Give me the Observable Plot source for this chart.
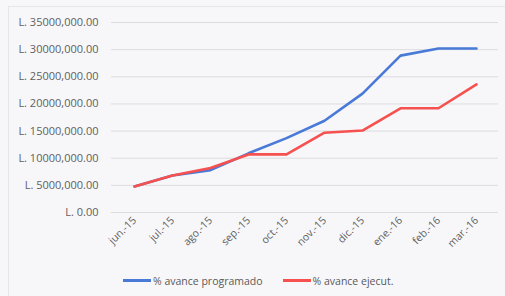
<!DOCTYPE html>
<html>
<head>
<meta charset="utf-8">
<script src="https://cdn.jsdelivr.net/npm/d3@7"></script>
<script src="https://cdn.jsdelivr.net/npm/@observablehq/plot@0.6"></script>
<style>
  html, body { margin: 0; padding: 0; background: #f7f7f9; }
  #wrap { position: relative; width: 505px; height: 296px; overflow: hidden; background: #f7f7f9; font-family: "Open Sans", sans-serif; }
  #frame { position: absolute; left: 8px; top: 6px; width: 520px; height: 320px; border: 1px solid #e6e6ea; box-sizing: border-box; pointer-events: none; }
  #legend { height: 31px; display: flex; align-items: center; font-size: 10.5px; color: #595959; padding-left: 123px; gap: 0; }
  .item { display: flex; align-items: center; margin-right: 20px; }
  .sw { width: 28px; height: 3px; margin-right: 2px; }
</style>
</head>
<body>
<div id="wrap">
  <div id="frame"></div>
  <div id="chart"></div>
  <div id="legend"></div>
</div>
<script>
const months = ["jun.-15", "jul.-15", "ago.-15", "sep.-15", "oct.-15", "nov.-15", "dic.-15", "ene.-16", "feb.-16", "mar.-16"];
const programado = [4800000, 6800000, 7800000, 10900000, 13700000, 16900000, 21900000, 28900000, 30200000, 30200000];
const ejecutado  = [4800000, 6800000, 8200000, 10700000, 10700000, 14700000, 15100000, 19200000, 19200000, 23600000];
const seriesNames = ["% avance programado", "% avance ejecut."];
const seriesColors = ["#4a7ad8", "#f6504f"];
const yTicks = [0, 5000000, 10000000, 15000000, 20000000, 25000000, 30000000, 35000000];
const yTickLabels = ["L. 0.00", "L. 5000,000.00", "L. 10000,000.00", "L. 15000,000.00", "L. 20000,000.00", "L. 25000,000.00", "L. 30000,000.00", "L. 35000,000.00"];

const rows = [];
months.forEach((m, i) => {
  rows.push({month: m, value: programado[i], series: seriesNames[0]});
  rows.push({month: m, value: ejecutado[i], series: seriesNames[1]});
});

const chart = Plot.plot({
  width: 505,
  height: 265,
  marginTop: 22,
  marginBottom: 53,
  marginLeft: 111,
  marginRight: 7,
  style: {background: "transparent", fontFamily: "'Open Sans', sans-serif", color: "#595959"},
  x: {type: "point", domain: months, padding: 0.5, label: null},
  y: {domain: [0, 35000000], label: null},
  color: {domain: seriesNames, range: seriesColors},
  marks: [
    Plot.ruleY(yTicks, {stroke: "#dcdce0", strokeWidth: 1}),
    Plot.axisY({ticks: yTicks, tickFormat: d => yTickLabels[yTicks.indexOf(d)], tickSize: 0, tickPadding: 13, fontSize: 11, fill: "#5f5f5f", label: null}),
    Plot.axisX({tickSize: 0, tickRotate: -45, tickPadding: 6, fontSize: 10.5, fill: "#5f5f5f", label: null}),
    Plot.line(rows, {x: "month", y: "value", z: "series", stroke: "series", strokeWidth: 2.6, strokeLinejoin: "round", strokeLinecap: "round"})
  ]
});
document.getElementById("chart").appendChild(chart);

const legend = document.getElementById("legend");
seriesNames.forEach((n, i) => {
  const it = document.createElement("div");
  it.className = "item";
  const sw = document.createElement("div");
  sw.className = "sw";
  sw.style.background = seriesColors[i];
  const t = document.createElement("span");
  t.textContent = n;
  it.appendChild(sw); it.appendChild(t);
  legend.appendChild(it);
});
</script>
</body>
</html>
